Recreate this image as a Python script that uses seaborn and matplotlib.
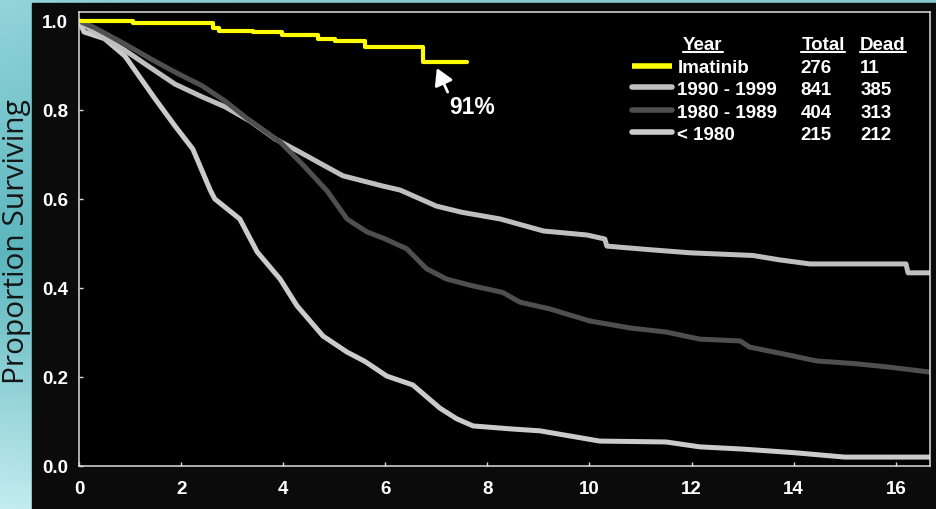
import numpy as np
import pandas as pd
import matplotlib
matplotlib.use('Agg')
import matplotlib.pyplot as plt
import seaborn as sns
from matplotlib.patches import Rectangle

# survival curves (years, proportion surviving)
imatinib_t = [0, 1.06, 2.62, 2.75, 3.4, 3.98, 4.68, 5.01, 5.6, 6.74, 7.6]
imatinib_s = [1.0, 0.995, 0.985, 0.978, 0.975, 0.969, 0.96, 0.954, 0.942, 0.907, 0.907]

y1990_t = [0, 0.3, 0.9, 1.4, 1.88, 2.4, 2.86, 3.35, 3.84, 4.33, 4.82, 5.17, 5.95, 6.29, 7.0, 7.5,
           8.25, 9.1, 9.95, 10.3, 10.34, 11.18, 11.97, 13.2, 13.73, 14.32, 16.2, 16.24, 16.67]
y1990_s = [1.0, 0.975, 0.934, 0.895, 0.858, 0.83, 0.807, 0.775, 0.735, 0.705, 0.674, 0.652, 0.629, 0.62, 0.584, 0.57,
           0.555, 0.528, 0.519, 0.51, 0.494, 0.486, 0.479, 0.473, 0.463, 0.454, 0.454, 0.434, 0.434]

y1980_t = [0, 0.3, 0.9, 1.4, 1.88, 2.4, 2.86, 3.3, 3.94, 4.4, 4.86, 5.25, 5.64, 6.0, 6.42, 6.81, 7.2, 7.7,
           8.3, 8.64, 9.22, 10.0, 10.8, 11.5, 12.16, 12.95, 13.14, 13.79, 14.45, 15.2, 15.88, 16.67]
y1980_s = [1.0, 0.985, 0.948, 0.915, 0.885, 0.855, 0.82, 0.78, 0.728, 0.675, 0.618, 0.555, 0.526, 0.51, 0.488, 0.443, 0.42, 0.405,
           0.39, 0.368, 0.353, 0.326, 0.31, 0.301, 0.285, 0.281, 0.267, 0.252, 0.236, 0.23, 0.222, 0.211]

pre1980_t = [0, 0.1, 0.5, 0.9, 1.49, 1.88, 2.23, 2.57, 2.66, 3.15, 3.49, 3.94, 4.27, 4.78, 5.25, 5.6, 6.03, 6.54,
             7.07, 7.4, 7.72, 8.5, 9.03, 10.2, 11.5, 12.16, 13.0, 14.0, 15.0, 16.67]
pre1980_s = [1.0, 0.975, 0.96, 0.921, 0.825, 0.764, 0.712, 0.62, 0.6, 0.555, 0.481, 0.42, 0.36, 0.292, 0.256, 0.235, 0.202, 0.182,
             0.13, 0.106, 0.09, 0.083, 0.079, 0.056, 0.054, 0.043, 0.038, 0.03, 0.02, 0.02]

groups = ['Imatinib', '1990 - 1999', '1980 - 1989', '< 1980']
totals = [276, 841, 404, 215]
deads = [11, 385, 313, 212]
colors = {'Imatinib': '#ffff00', '1990 - 1999': '#bfbfbf', '1980 - 1989': '#4f4f4f', '< 1980': '#cbcbcb'}

x_ticks = [0, 2, 4, 6, 8, 10, 12, 14, 16]
y_ticks = [0.0, 0.2, 0.4, 0.6, 0.8, 1.0]

gray_df = pd.concat([
    pd.DataFrame({'t': pre1980_t, 's': pre1980_s, 'group': '< 1980'}),
    pd.DataFrame({'t': y1990_t, 's': y1990_s, 'group': '1990 - 1999'}),
    pd.DataFrame({'t': y1980_t, 's': y1980_s, 'group': '1980 - 1989'}),
], ignore_index=True)
ima_df = pd.DataFrame({'t': imatinib_t, 's': imatinib_s, 'group': 'Imatinib'})

sns.set_style('dark')
plt.rcParams['font.family'] = ['Liberation Sans', 'DejaVu Sans']

W, H = 937, 510
fig = plt.figure(figsize=(W / 100, H / 100), dpi=100)

# teal gradient backdrop + black panel
bg = fig.add_axes([0, 0, 1, 1])
yy, xx = np.mgrid[0:1:200j, 0:1:200j]
top = np.array([0x86, 0xc8, 0xce]) / 255
mid = np.array([0x4f, 0xa9, 0xb1]) / 255
bot = np.array([0xb6, 0xe0, 0xe3]) / 255
w = np.clip(yy * 2, 0, 1)[..., None]
w2 = np.clip(yy * 2 - 1, 0, 1)[..., None]
img = np.where(yy[..., None] < 0.5, top * (1 - w) + mid * w, mid * (1 - w2) + bot * w2)
img = img + (0.05 * (1 - xx) ** 4)[..., None]
bg.imshow(np.clip(img, 0, 1), extent=[0, 1, 0, 1], aspect='auto', origin='upper')
bg.add_patch(Rectangle((32 / W, 0), 1, (H - 4) / H, transform=bg.transAxes, color='#0b0b0b'))
bg.set_xlim(0, 1)
bg.set_ylim(0, 1)
bg.axis('off')

ax = fig.add_axes([79 / W, 43 / H, 851 / W, 454 / H])
ax.set_facecolor('black')

sns.lineplot(data=gray_df, x='t', y='s', hue='group', palette=colors, sort=False,
             estimator=None, linewidth=3.6, legend=False, ax=ax)
sns.lineplot(data=ima_df, x='t', y='s', color=colors['Imatinib'], sort=False,
             estimator=None, linewidth=3.0, drawstyle='steps-post', legend=False, ax=ax)

ax.set_xlim(0, 16.67)
ax.set_ylim(0, 1.02)
ax.set_xticks(x_ticks)
ax.set_yticks(y_ticks)
ax.set_xticklabels([str(v) for v in x_ticks])
ax.set_yticklabels([f'{v:.1f}' for v in y_ticks])
ax.tick_params(axis='both', direction='in', length=3, width=1, color='#dddddd',
               labelcolor='white', labelsize=13.5)
ax.tick_params(axis='x', pad=10)
ax.tick_params(axis='y', pad=8)
ax.tick_params(bottom=True, left=True)
for lab in ax.get_xticklabels() + ax.get_yticklabels():
    lab.set_fontweight('bold')
for sp in ax.spines.values():
    sp.set_visible(True)
    sp.set_color('#dddddd')
    sp.set_linewidth(1.1)
ax.grid(False)
ax.set_xlabel('')
ax.set_ylabel('Proportion Surviving', family=['Open Sans', 'DejaVu Sans'], fontsize=21.5,
              color='#151515', va='center')
ax.yaxis.set_label_coords(-0.074, 0.496)

# 91% callout
ax.annotate('91%', xy=(7.01, 0.894), xytext=(7.25, 0.807), color='white', fontsize=16.5,
            fontweight='bold', ha='left', va='center',
            arrowprops=dict(arrowstyle='-|>,head_width=0.35,head_length=0.6', color='white',
                            lw=2, shrinkA=0, shrinkB=0,
                            relpos=(0.0, 1.0)))

# legend table
tkw = dict(transform=ax.transAxes, color='white', fontsize=13.5, fontweight='bold', va='baseline')
headers = [ax.text(0.710, 0.918, 'Year', **tkw),
           ax.text(0.849, 0.918, 'Total', **tkw),
           ax.text(0.918, 0.918, 'Dead', **tkw)]
row_base = [0.868, 0.819, 0.769, 0.720]
row_mid = [0.882, 0.834, 0.784, 0.735]
for g, n, d, yb, ym in zip(groups, totals, deads, row_base, row_mid):
    cap = 'butt' if g == 'Imatinib' else 'round'
    ax.plot([0.650, 0.697], [ym, ym], transform=ax.transAxes, color=colors[g],
            lw=4, solid_capstyle=cap, clip_on=False)
    ax.text(0.703, yb, g, **tkw)
    ax.text(0.848, yb, str(n), **tkw)
    ax.text(0.918, yb, str(d), **tkw)

fig.canvas.draw()
inv = ax.transAxes.inverted()
for h in headers:
    bb = h.get_window_extent()
    (x0, _), (x1, _) = inv.transform([(bb.x0, 0), (bb.x1, 0)])
    ax.plot([x0, x1], [0.912, 0.912], transform=ax.transAxes, color='white', lw=1.5,
            clip_on=False)

fig.savefig('out.png', dpi=100, facecolor=fig.get_facecolor())
